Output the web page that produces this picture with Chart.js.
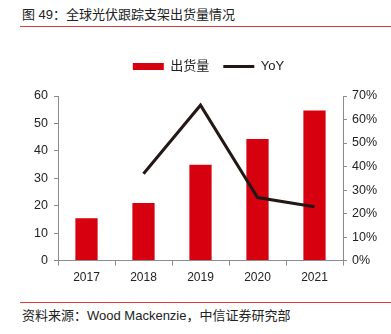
<!DOCTYPE html>
<html>
<head>
<meta charset="utf-8">
<script src="https://cdn.jsdelivr.net/npm/chart.js@4"></script>
<style>
  body { margin: 0; width: 391px; height: 334px; background: #fff; position: relative; overflow: hidden;
         font-family: "Liberation Sans", "Noto Sans CJK SC", sans-serif; color: #222; }
  .title { position: absolute; left: 22px; top: 7px; font-size: 13px; line-height: 16px; white-space: nowrap; }
  .rule { position: absolute; left: 20px; right: 0; height: 1px; background: #e03a3a; }
  .source { position: absolute; left: 22px; top: 308px; font-size: 13px; line-height: 16px; white-space: nowrap; }
  #wrap { position: absolute; left: 0; top: 36px; width: 391px; height: 258px; }
</style>
</head>
<body>
<div class="title">图 49：全球光伏跟踪支架出货量情况</div>
<div class="rule" style="top:26px"></div>
<div id="wrap"><canvas id="chart"></canvas></div>
<div class="rule" style="top:302px"></div>
<div class="source">资料来源：Wood Mackenzie，中信证券研究部</div>

<script>
// shipments (GW) and year-on-year growth (%)
const years = ['2017', '2018', '2019', '2020', '2021'];
const shipments = [15.4, 21.0, 34.9, 44.3, 54.7];
const yoy = [null, 36.9, 66.1, 26.8, 22.9];
const leftTicks = [0, 10, 20, 30, 40, 50, 60];
const rightTicks = [0, 10, 20, 30, 40, 50, 60, 70];

const RED = '#d7000f';
const DARK = '#231815';
const AXIS = '#8c8c8c';
const PAD_L = 26, PAD_R = 0;

// extra room under the legend
const legendGap = {
  id: 'legendGap',
  beforeInit(chart) {
    const fit = chart.legend.fit;
    chart.legend.fit = function () {
      fit.bind(chart.legend)();
      this.height += 13;
    };
  }
};

new Chart(document.getElementById('chart'), {
  type: 'bar',
  data: {
    labels: years,
    datasets: [
      {
        type: 'bar',
        label: '出货量',
        data: shipments,
        backgroundColor: RED,
        barPercentage: 0.39,
        categoryPercentage: 1,
        yAxisID: 'y',
        pointStyle: 'rect',
        order: 1
      },
      {
        type: 'line',
        label: 'YoY',
        data: yoy,
        borderColor: DARK,
        backgroundColor: DARK,
        borderWidth: 3,
        pointRadius: 0,
        tension: 0,
        yAxisID: 'y1',
        pointStyle: 'line',
        order: 0
      }
    ]
  },
  plugins: [legendGap],
  options: {
    responsive: true,
    maintainAspectRatio: false,
    animation: false,
    layout: { padding: { left: PAD_L, right: PAD_R, top: 10, bottom: 4 } },
    plugins: {
      tooltip: { enabled: false },
      legend: {
        position: 'top',
        labels: {
          usePointStyle: true,
          pointStyleWidth: 31,
          boxHeight: 7,
          padding: 14,
          color: '#222',
          font: { family: 'Liberation Sans, Noto Sans CJK SC', size: 13 },
          sort: (a, b) => a.datasetIndex - b.datasetIndex
        }
      }
    },
    scales: {
      x: {
        grid: { display: true, drawOnChartArea: false, drawTicks: true, tickLength: 5, color: AXIS, offset: true },
        border: { display: true, color: AXIS },
        ticks: { color: '#222', padding: 5, font: { family: 'Liberation Sans', size: 12 } }
      },
      y: {
        position: 'left',
        min: 0,
        max: 60,
        afterBuildTicks: s => { s.ticks = leftTicks.map(v => ({ value: v })); },
        afterFit: s => { s.width = 58 - PAD_L; },
        grid: { drawOnChartArea: false, drawTicks: true, tickLength: 4, color: AXIS },
        border: { display: true, color: AXIS },
        ticks: { color: '#222', padding: 6, font: { family: 'Liberation Sans', size: 12.5 } }
      },
      y1: {
        position: 'right',
        min: 0,
        max: 70,
        afterBuildTicks: s => { s.ticks = rightTicks.map(v => ({ value: v })); },
        afterFit: s => { s.width = 391 - PAD_R - 343; },
        grid: { drawOnChartArea: false, drawTicks: true, tickLength: 4, color: AXIS },
        border: { display: true, color: AXIS },
        ticks: {
          color: '#222', padding: 5, font: { family: 'Liberation Sans', size: 12.5 },
          callback: v => v + '%'
        }
      }
    }
  }
});
</script>
</body>
</html>
